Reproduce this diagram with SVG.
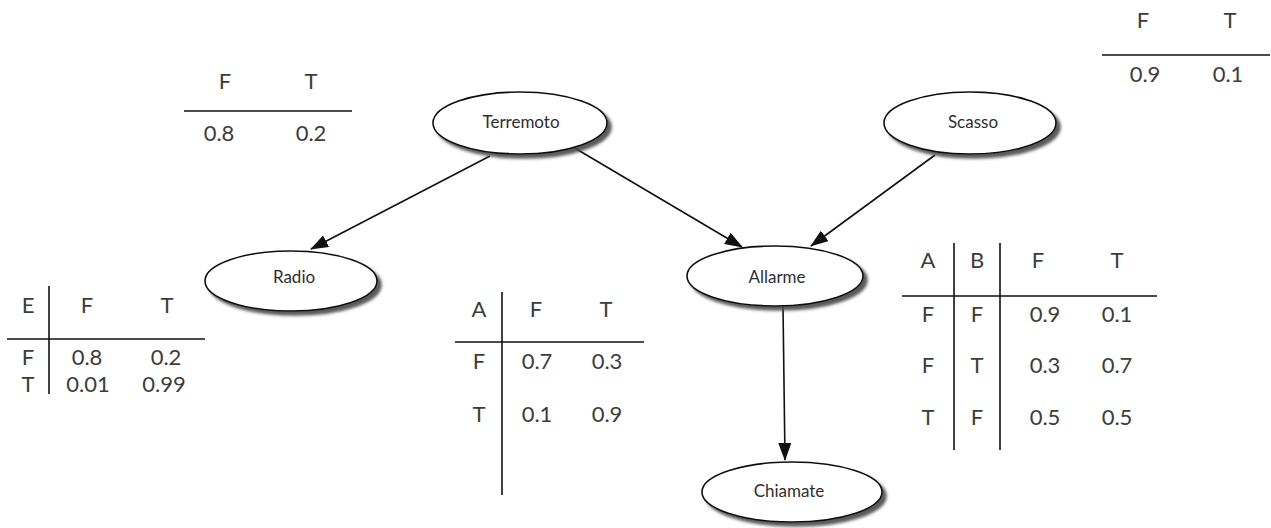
<svg xmlns="http://www.w3.org/2000/svg" width="1271" height="528" viewBox="0 0 1271 528">
  <style>
    .node ellipse { fill: #ffffff; stroke: #111111; stroke-width: 1.6; filter: url(#shadow); }
    .node text { font-family: Lato, "Liberation Sans", sans-serif; font-size: 17px; fill: #2e2e2e; text-anchor: middle; }
    .edge { stroke: #111111; stroke-width: 1.6; fill: none; marker-end: url(#arrow); }
    .cpt line { stroke: #111111; stroke-width: 1.6; }
    .cpt text { font-family: Lato, "Liberation Sans", sans-serif; font-size: 22px; fill: #3c3c3c; text-anchor: middle; }
  </style>
  <defs>
    <filter id="shadow" x="-20%" y="-30%" width="150%" height="170%">
      <feDropShadow dx="4" dy="4" stdDeviation="1.8" flood-color="#4a4a4a" flood-opacity="0.9"/>
    </filter>
    <marker id="arrow" viewBox="0 0 18 13" refX="17" refY="6.5" markerWidth="18" markerHeight="13" markerUnits="userSpaceOnUse" orient="auto">
      <path d="M0,0 L18,6.5 L0,13 Z" fill="#111111"/>
    </marker>
  </defs>

  <rect width="1271" height="528" fill="#ffffff"/>

  <!-- connectors -->
  <g id="connectors">
    <line class="edge" x1="490" y1="156" x2="311" y2="249"/>
    <line class="edge" x1="573" y1="147" x2="742" y2="247"/>
    <line class="edge" x1="935" y1="155" x2="811" y2="246"/>
    <line class="edge" x1="783" y1="306" x2="785" y2="460"/>
  </g>

  <!-- nodes -->
  <g id="terremoto" class="node">
    <ellipse cx="520" cy="123" rx="87" ry="31"/>
    <text x="521" y="128">Terremoto</text>
  </g>
  <g id="scasso" class="node">
    <ellipse cx="970" cy="123" rx="86" ry="31"/>
    <text x="973" y="128">Scasso</text>
  </g>
  <g id="radio" class="node">
    <ellipse cx="291" cy="281" rx="86" ry="30"/>
    <text x="294" y="283">Radio</text>
  </g>
  <g id="allarme" class="node">
    <ellipse cx="775" cy="276" rx="88" ry="30"/>
    <text x="777" y="283">Allarme</text>
  </g>
  <g id="chiamate" class="node">
    <ellipse cx="792" cy="492" rx="90" ry="30"/>
    <text x="789" y="497">Chiamate</text>
  </g>

  <!-- probability tables -->
  <g id="cpt-terremoto" class="cpt">
    <text x="225" y="89">F</text>
    <text x="311" y="89">T</text>
    <line x1="184" y1="111" x2="352" y2="111"/>
    <text x="219" y="141">0.8</text>
    <text x="311" y="141">0.2</text>
  </g>

  <g id="cpt-scasso" class="cpt">
    <text x="1143" y="28">F</text>
    <text x="1230" y="28">T</text>
    <line x1="1102" y1="55" x2="1270" y2="55"/>
    <text x="1145" y="82">0.9</text>
    <text x="1228" y="82">0.1</text>
  </g>

  <g id="cpt-radio" class="cpt">
    <text x="28" y="313">E</text>
    <text x="87" y="313">F</text>
    <text x="167" y="313">T</text>
    <line x1="49" y1="286" x2="49" y2="394"/>
    <line x1="7" y1="339" x2="205" y2="339"/>
    <text x="28" y="365">F</text>
    <text x="87" y="365">0.8</text>
    <text x="166" y="365">0.2</text>
    <text x="28" y="392">T</text>
    <text x="88" y="392">0.01</text>
    <text x="164" y="392">0.99</text>
  </g>

  <g id="cpt-chiamate" class="cpt">
    <text x="479" y="317">A</text>
    <text x="536" y="317">F</text>
    <text x="606" y="317">T</text>
    <line x1="502" y1="292" x2="502" y2="495"/>
    <line x1="455" y1="342" x2="644" y2="342"/>
    <text x="479" y="369">F</text>
    <text x="537" y="369">0.7</text>
    <text x="607" y="369">0.3</text>
    <text x="479" y="422">T</text>
    <text x="537" y="422">0.1</text>
    <text x="607" y="422">0.9</text>
  </g>

  <g id="cpt-allarme" class="cpt">
    <text x="928" y="268">A</text>
    <text x="977" y="268">B</text>
    <text x="1038" y="268">F</text>
    <text x="1117" y="268">T</text>
    <line x1="954" y1="243" x2="954" y2="450"/>
    <line x1="1000" y1="243" x2="1000" y2="450"/>
    <line x1="902" y1="296" x2="1157" y2="296"/>
    <text x="928" y="322">F</text>
    <text x="977" y="322">F</text>
    <text x="1045" y="322">0.9</text>
    <text x="1117" y="322">0.1</text>
    <text x="928" y="373">F</text>
    <text x="977" y="373">T</text>
    <text x="1045" y="373">0.3</text>
    <text x="1117" y="373">0.7</text>
    <text x="928" y="425">T</text>
    <text x="977" y="425">F</text>
    <text x="1045" y="425">0.5</text>
    <text x="1117" y="425">0.5</text>
  </g>
</svg>
